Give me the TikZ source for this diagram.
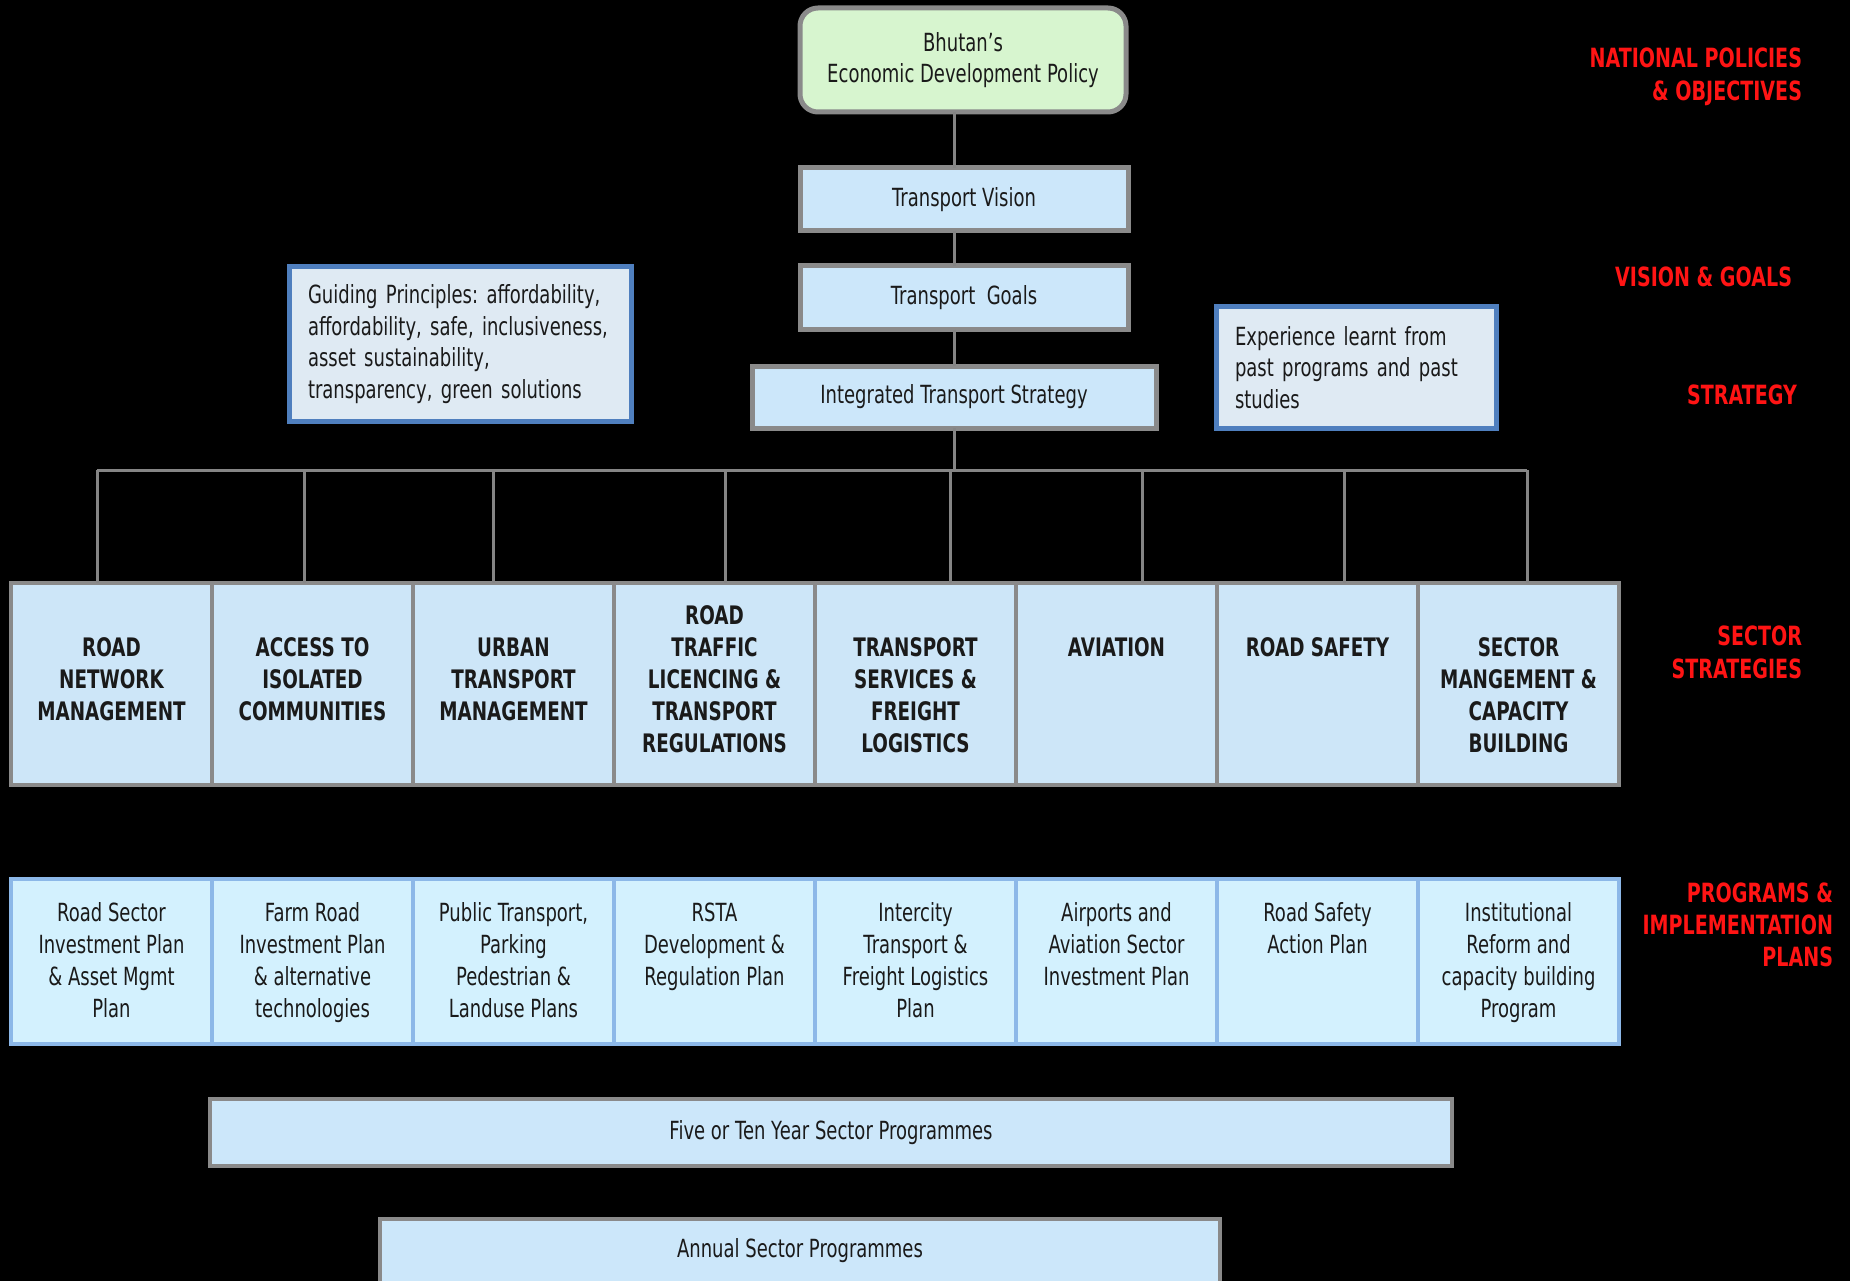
\documentclass[tikz,border=0pt]{standalone}
\usepackage{fontspec}
\setmainfont{DejaVu Sans}[FakeStretch=0.72]
\frenchspacing
\definecolor{txt}{HTML}{1A1A1A}
\definecolor{gbord}{HTML}{8A8A8A}
\definecolor{topfill}{HTML}{CCE7FA}
\definecolor{greenfill}{HTML}{D7F5CF}
\definecolor{guidefill}{HTML}{DFEAF3}
\definecolor{guidebord}{HTML}{4F7FBE}
\definecolor{secfill}{HTML}{CDE6F8}
\definecolor{progfill}{HTML}{D3F1FE}
\definecolor{progbord}{HTML}{8CB8E8}
\definecolor{redlab}{HTML}{FF1414}
\definecolor{conn}{HTML}{858585}
\begin{document}
\begin{tikzpicture}[x=1pt,y=-1pt,
  every node/.style={inner sep=0pt, outer sep=0pt, text=txt},
  basefont/.style={font=\fontsize{25}{31.5}\selectfont\frenchspacing},
  topbox/.style={draw=gbord, line width=5pt, fill=topfill, basefont, align=center},
  greenbox/.style={draw=gbord, line width=5pt, fill=greenfill, rounded corners=18pt, basefont, align=center},
  guidebox/.style={draw=guidebord, line width=5pt, fill=guidefill, basefont, align=left},
  secbox/.style={draw=gbord, line width=3.5pt, fill=secfill, minimum width=201pt, minimum height=202pt},
  sectext/.style={anchor=base, font=\fontsize{25.5}{32}\selectfont\bfseries},
  progbox/.style={draw=progbord, line width=3.5pt, fill=progfill, minimum width=201pt, minimum height=165pt},
  progtext/.style={anchor=base, font=\fontsize{25}{32}\selectfont},
  widebox/.style={draw=gbord, line width=4pt, fill=topfill, basefont},
  redtext/.style={anchor=base east, text=redlab, font=\fontsize{26.5}{33}\selectfont\bfseries},
  link/.style={draw=conn, line width=3pt}
]
\fill[black] (0,0) rectangle (1850,1281);
\useasboundingbox (0,0) rectangle (1850,1281);

% top chain
\node[greenbox, minimum width=326pt, minimum height=104pt] (bhutan) at (963,60) {Bhutan's\\Economic Development Policy};
\node[topbox, minimum width=328pt, minimum height=63pt] (vision) at (964,199.5) {Transport Vision};
\node[topbox, minimum width=328pt, minimum height=64pt] (goals) at (964,298) {Transport\ \ Goals};
\node[topbox, minimum width=404pt, minimum height=62pt] (its) at (954,397) {Integrated Transport Strategy};

\node[guidebox, minimum width=342pt, minimum height=154pt, text width=304pt] (guide) at (460,344)
  {\mbox{Guiding Principles: affordability,}\\\mbox{affordability, safe, inclusiveness,}\\\mbox{asset sustainability,}\\\mbox{transparency, green solutions}};
\node[guidebox, minimum width=280pt, minimum height=121pt, text width=242pt] (exper) at (1356,367.5)
  {\mbox{Experience learnt from}\\\mbox{past programs and past}\\\mbox{studies}};

% links in top chain
\draw[link] (bhutan.south -| its.north) -- (vision.north -| its.north);
\draw[link] (vision.south -| its.north) -- (goals.north -| its.north);
\draw[link] (goals.south -| its.north) -- (its.north);

% sector boxes
\node[secbox] (s1) at (111.5,684) {};
\node[secbox] (s2) at (312.5,684) {};
\node[secbox] (s3) at (513.5,684) {};
\node[secbox] (s4) at (714.5,684) {};
\node[secbox] (s5) at (915.5,684) {};
\node[secbox] (s6) at (1116.5,684) {};
\node[secbox] (s7) at (1317.5,684) {};
\node[secbox] (s8) at (1518.5,684) {};

\node[sectext] (t1) at (111.5,656) {\parbox[t]{195pt}{\centering ROAD\\NETWORK\\MANAGEMENT}};
\node[sectext] (t2) at (312.5,656) {\parbox[t]{195pt}{\centering ACCESS TO\\ISOLATED\\COMMUNITIES}};
\node[sectext] (t3) at (513.5,656) {\parbox[t]{195pt}{\centering URBAN\\TRANSPORT\\MANAGEMENT}};
\node[sectext] (t4) at (714.5,624) {\parbox[t]{195pt}{\centering ROAD\\TRAFFIC\\LICENCING \&\\TRANSPORT\\REGULATIONS}};
\node[sectext] (t5) at (915.5,656) {\parbox[t]{195pt}{\centering TRANSPORT\\SERVICES \&\\FREIGHT\\LOGISTICS}};
\node[sectext] (t6) at (1116.5,656) {\parbox[t]{195pt}{\centering AVIATION}};
\node[sectext] (t7) at (1317.5,656) {\parbox[t]{195pt}{\centering ROAD SAFETY}};
\node[sectext] (t8) at (1518.5,656) {\parbox[t]{195pt}{\centering SECTOR\\MANGEMENT \&\\CAPACITY\\BUILDING}};

% bus connectors
\coordinate (bus) at (954,470);
\coordinate (d1) at (97,470);
\coordinate (d2) at (304,470);
\coordinate (d3) at (493,470);
\coordinate (d4) at (725,470);
\coordinate (d5) at (950,470);
\coordinate (d6) at (1142,470);
\coordinate (d7) at (1344,470);
\coordinate (d8) at (1527,470);
\draw[link] (its.south) -- (bus);
\draw[link] (d1) -- (d8);
\draw[link] (d1) -- (d1 |- s1.north);
\draw[link] (d2) -- (d2 |- s2.north);
\draw[link] (d3) -- (d3 |- s3.north);
\draw[link] (d4) -- (d4 |- s4.north);
\draw[link] (d5) -- (d5 |- s5.north);
\draw[link] (d6) -- (d6 |- s6.north);
\draw[link] (d7) -- (d7 |- s7.north);
\draw[link] (d8) -- (d8 |- s8.north);

% program boxes
\node[progbox] (p1) at (111.5,961.5) {};
\node[progbox] (p2) at (312.5,961.5) {};
\node[progbox] (p3) at (513.5,961.5) {};
\node[progbox] (p4) at (714.5,961.5) {};
\node[progbox] (p5) at (915.5,961.5) {};
\node[progbox] (p6) at (1116.5,961.5) {};
\node[progbox] (p7) at (1317.5,961.5) {};
\node[progbox] (p8) at (1518.5,961.5) {};

\node[progtext] (q1) at (111.5,921) {\parbox[t]{195pt}{\centering Road Sector\\Investment Plan\\\& Asset Mgmt\\Plan}};
\node[progtext] (q2) at (312.5,921) {\parbox[t]{195pt}{\centering Farm Road\\Investment Plan\\\& alternative\\technologies}};
\node[progtext] (q3) at (513.5,921) {\parbox[t]{195pt}{\centering Public Transport,\\Parking\\Pedestrian \&\\Landuse Plans}};
\node[progtext] (q4) at (714.5,921) {\parbox[t]{195pt}{\centering RSTA\\Development \&\\Regulation Plan}};
\node[progtext] (q5) at (915.5,921) {\parbox[t]{195pt}{\centering Intercity\\Transport \&\\Freight Logistics\\Plan}};
\node[progtext] (q6) at (1116.5,921) {\parbox[t]{195pt}{\centering Airports and\\Aviation Sector\\Investment Plan}};
\node[progtext] (q7) at (1317.5,921) {\parbox[t]{195pt}{\centering Road Safety\\Action Plan}};
\node[progtext] (q8) at (1518.5,921) {\parbox[t]{195pt}{\centering Institutional\\Reform and\\capacity building\\Program}};

% programme bars
\node[widebox, minimum width=1242pt, minimum height=67pt] (five) at (831,1132.5) {Five or Ten Year Sector Programmes};
\node[widebox, minimum width=840pt, minimum height=76pt] (annual) at (800,1257) {};
\node[basefont] (annualtext) at (800,1251) {Annual Sector Programmes};

% red level labels
\node[redtext] (l1) at (1802,67.5) {\parbox[t]{400pt}{\raggedleft NATIONAL POLICIES\\\& OBJECTIVES}};
\node[redtext] (l2) at (1792,287) {\parbox[t]{400pt}{\raggedleft VISION \& GOALS}};
\node[redtext] (l3) at (1797,404) {\parbox[t]{400pt}{\raggedleft STRATEGY}};
\node[redtext] (l4) at (1802,645) {\parbox[t]{400pt}{\raggedleft SECTOR\\STRATEGIES}};
\node[redtext, font=\fontsize{26.5}{32}\selectfont\bfseries] (l5) at (1833,902) {\parbox[t]{400pt}{\raggedleft PROGRAMS \&\\IMPLEMENTATION\\PLANS}};
\end{tikzpicture}
\end{document}
